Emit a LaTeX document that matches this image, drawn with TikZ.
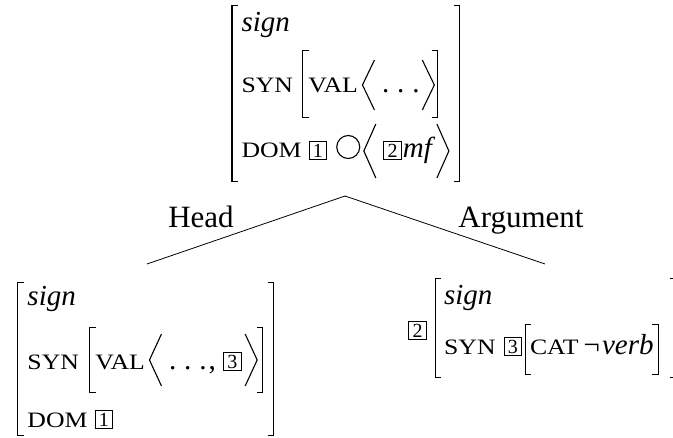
\documentclass[tikz,border=0pt]{standalone}
\usepackage{graphicx}
\usepackage{fontspec}
\setmainfont{Liberation Serif}
\newlength\brt \setlength\brt{1.3bp}
\newlength\brw \setlength\brw{6.5bp}
\newcommand{\lbr}[2]{\hbox{\rlap{\vrule width\brw height #1 depth -\dimexpr #1-\brt\relax}\rlap{\vrule width\brw height -\dimexpr #2-\brt\relax depth #2}\vrule width\brt height #1 depth #2}}
\newcommand{\rbr}[2]{\hbox{\vrule width\brt height #1 depth #2\llap{\vrule width\brw height #1 depth -\dimexpr #1-\brt\relax}\llap{\vrule width\brw height -\dimexpr #2-\brt\relax depth #2}}}
\newcommand{\lang}[2]{\tikz[baseline=0pt,x=1bp,y=1bp]\draw[angl] (12,#1)--(0,{(#1-#2)/2})--(12,-#2);}
\newcommand{\rang}[2]{\tikz[baseline=0pt,x=1bp,y=1bp]\draw[angl] (0,#1)--(12,{(#1-#2)/2})--(0,-#2);}
\newcommand{\circl}{\tikz[baseline=0pt,x=1bp,y=1bp]\draw[angl] (0,11) circle[radius=11.5];}
\newcommand{\fsc}[1]{\scalebox{1.03}[0.88]{\fontsize{25bp}{25bp}\selectfont #1}}
\newcommand{\tg}[1]{{\setlength{\fboxsep}{0pt}\setlength{\fboxrule}{0.8bp}\lower1bp\hbox{\fbox{\vbox to 17bp{\vss\hbox to 17bp{\hss\fontsize{20bp}{20bp}\selectfont #1\hss}\vss}}}}}
\newcommand{\dts}{.\kern8bp.\kern8bp.}
\tikzset{
  angl/.style={line width=1.1bp},
  avm/.style={inner sep=0pt, anchor=base west, font=\fontsize{29bp}{35bp}\selectfont},
  lbl/.style={inner sep=0pt, anchor=base, font=\fontsize{31bp}{37bp}\selectfont},
  edge/.style={line width=0.8bp}
}
\begin{document}
\begin{tikzpicture}[x=1bp,y=-1bp]
\useasboundingbox (0,0) rectangle (673,438);
% mother
\node[avm] (top) at (231,158) {\hbox to 229bp{\lbr{153bp}{24bp}\kern9bp\vbox{\lineskiplimit=-1000bp\baselineskip=0bp
\hbox{\textit{sign}}\baselineskip=61bp
\hbox{\fsc{SYN}\kern9bp\lbr{43bp}{25bp}\kern5bp\fsc{VAL}\kern4bp\lang{33}{17}\kern7bp\dts\kern2bp\rang{33}{17}\kern2bp\rbr{43bp}{25bp}}\baselineskip=65bp
\hbox{\fsc{DOM}\kern7bp\tg{1}\kern9bp\circl\kern3bp\lang{34}{20}\kern7bp\tg{2}\kern1bp\textit{mf}\kern1bp\rang{34}{20}}}\hfil\rbr{153bp}{24bp}}};
% head daughter
\node[avm] (head) at (17,427) {\hbox to 257bp{\lbr{145bp}{9bp}\kern9bp\vbox{\lineskiplimit=-1000bp\baselineskip=0bp
\hbox{\textit{sign}}\baselineskip=64bp
\hbox{\fsc{SYN}\kern10bp\lbr{42bp}{24bp}\kern5bp\fsc{VAL}\kern4bp\lang{35}{17}\kern7bp\dts\kern2bp,\kern7bp\tg{3}\kern3bp\rang{35}{17}\kern4bp\rbr{42bp}{24bp}}\baselineskip=58bp
\hbox{\fsc{DOM}\kern7bp\tg{1}}}\hfil\rbr{145bp}{9bp}}};
% argument daughter
\node[avm] (arg) at (408,354) {\hbox{\raise16bp\hbox{\tg{2}}\kern8bp\lbr{76bp}{24bp}\kern8bp\vbox{\lineskiplimit=-1000bp\baselineskip=0bp
\hbox{\textit{sign}}\baselineskip=49bp
\hbox{\fsc{SYN}\kern8bp\tg{3}\kern2.5bp\lbr{30bp}{21bp}\kern4bp\fsc{CAT}\kern5bp¬\kern2bp\textit{verb}\kern4bp\rbr{30bp}{21bp}}}\kern16bp\rbr{76bp}{24bp}}};
\coordinate (apex) at (345,196);
\coordinate (hl) at (147,264);
\coordinate (hr) at (545,264);
\draw[edge] (apex) -- (hl);
\draw[edge] (apex) -- (hr);
\node[lbl] (lh) at (201,228) {Head};
\node[lbl] (la) at (521,228) {Argument};
\end{tikzpicture}
\end{document}
